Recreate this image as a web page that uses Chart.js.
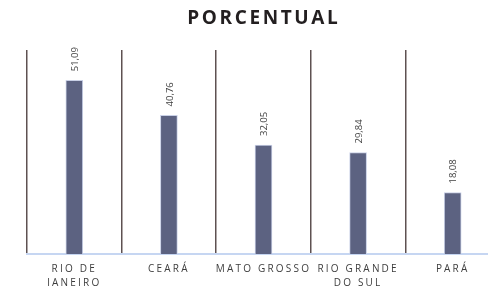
<!DOCTYPE html>
<html>
<head>
<meta charset="utf-8">
<script src="https://cdn.jsdelivr.net/npm/chart.js@4.4.1/dist/chart.umd.min.js"></script>
<style>
  html, body { margin: 0; padding: 0; background: #fff; overflow: hidden; }
  #wrap { width: 524px; height: 286px; }
</style>
</head>
<body>
<div id="wrap"><canvas id="porcentualChart" width="524" height="286"></canvas></div>
<script>
// dados
var estados = [["RIO DE", "JANEIRO"], "CEARÁ", "MATO GROSSO", ["RIO GRANDE", "DO SUL"], "PARÁ"];
var porcentual = [51.09, 40.76, 32.05, 29.84, 18.08];
var yMax = 60;

// letter spacing on axis labels, then title + rotated value labels
var extras = {
    id: 'extras',
    beforeDraw: function (chart) {
        chart.ctx.letterSpacing = '2.2px';
    },
    afterDatasetsDraw: function (chart) {
        var ctx = chart.ctx;
        ctx.save();
        ctx.letterSpacing = '0px';
        ctx.fillStyle = '#3f3f3f';
        ctx.font = '9.5px "Open Sans"';
        ctx.textAlign = 'left';
        ctx.textBaseline = 'middle';
        chart.getDatasetMeta(0).data.forEach(function (bar, i) {
            ctx.save();
            ctx.translate(bar.x + 1, bar.y - 9);
            ctx.rotate(-Math.PI / 2);
            ctx.fillText(porcentual[i].toFixed(2).replace('.', ','), 0, 0);
            ctx.restore();
        });
        // title
        ctx.letterSpacing = '2.6px';
        ctx.font = 'bold 19px "Open Sans"';
        ctx.fillStyle = '#231f20';
        ctx.textAlign = 'center';
        ctx.textBaseline = 'middle';
        var mid = (chart.chartArea.left + chart.chartArea.right) / 2;
        ctx.fillText('PORCENTUAL', mid + 0.3, 18.5);
        ctx.restore();
    }
};

var ctx = document.getElementById("porcentualChart").getContext('2d');
var myBarChart = new Chart(ctx, {
    type: 'bar',
    data: {
        labels: estados,
        datasets: [{
            data: porcentual,
            backgroundColor: "#5c6281",
            borderColor: "#c9d0e6",
            borderWidth: 1,
            barThickness: 17
        }]
    },
    options: {
        responsive: false,
        animation: false,
        layout: { padding: { top: 50, left: 27, right: 24, bottom: -12 } },
        plugins: {
            legend: { display: false },
            tooltip: { enabled: false }
        },
        scales: {
            x: {
                grid: { display: true, offset: true, color: '#5e5151', lineWidth: 1.5, drawTicks: false },
                border: { display: true, color: '#c6d6f2', width: 2 },
                ticks: {
                    color: '#3d3d3d',
                    font: { family: '"Open Sans"', size: 10, lineHeight: 1.4 },
                    padding: 8,
                    maxRotation: 0,
                    autoSkip: false
                }
            },
            y: {
                display: false,
                min: 0,
                max: yMax
            }
        }
    },
    plugins: [extras]
});
</script>
</body>
</html>
